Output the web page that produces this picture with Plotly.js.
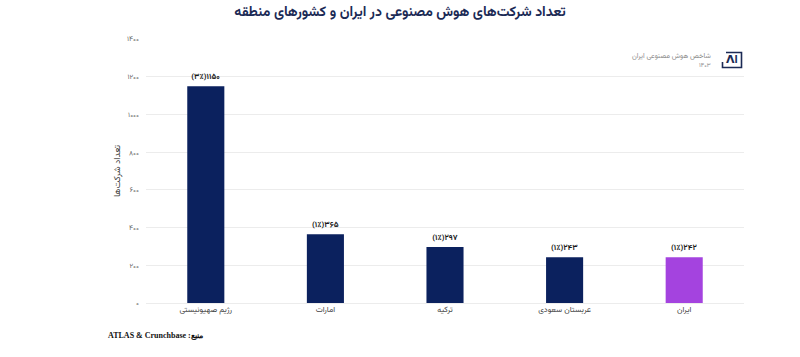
<!DOCTYPE html>
<html>
<head>
<meta charset="utf-8">
<script src="https://cdn.plot.ly/plotly-3.0.1.min.js"></script>
<style>html,body{margin:0;padding:0;background:#fff;}#chart{width:800px;height:357px;}</style>
</head>
<body>
<div id="chart"></div>
<script>
const categories = ["رژیم صهیونیستی", "امارات", "ترکیه", "عربستان سعودی", "ایران"];
const values = [1150, 365, 297, 243, 242];
const valueLabels = ["(۳٪)۱۱۵۰", "(۱٪)۳۶۵", "(۱٪)۲۹۷", "(۱٪)۲۴۳", "(۱٪)۲۴۲"];
const tickVals = [0, 200, 400, 600, 800, 1000, 1200, 1400];
const tickText = ["۰", "۲۰۰", "۴۰۰", "۶۰۰", "۸۰۰", "۱۰۰۰", "۱۲۰۰", "۱۴۰۰"];
const barColors = ["#0b215e", "#0b215e", "#0b215e", "#0b215e", "#a443df"];

const FONT = "Vazirmatn, 'DejaVu Sans', sans-serif";
const L = 146, W = 598, B = 303, H = 264;
const px = v => (v - L) / W;
const py = v => (B - v) / H;

const trace = {
  type: "bar",
  x: categories,
  y: values,
  text: valueLabels.map(s => "<b>" + s + "</b>"),
  textposition: "outside",
  cliponaxis: false,
  textfont: {family: FONT, size: 8, color: "#1a1a1a"},
  marker: {color: barColors},
  width: 0.31,
  hoverinfo: "none"
};

const layout = {
  width: 800, height: 357,
  margin: {l: 146, r: 56, t: 39, b: 54},
  paper_bgcolor: "#fff", plot_bgcolor: "#fff",
  showlegend: false,
  font: {family: FONT},
  title: {
    text: "<b>تعداد شرکت‌های هوش مصنوعی در ایران و کشورهای منطقه</b>",
    font: {family: FONT, size: 14, color: "#1b2a55"},
    x: 0.5, xanchor: "center", y: 0.968, yanchor: "middle"
  },
  xaxis: {
    type: "category",
    showgrid: false, showline: false, zeroline: false,
    ticks: "",
    tickfont: {family: FONT, size: 8, color: "#444"}
  },
  yaxis: {
    range: [0, 1400],
    tickvals: tickVals,
    ticktext: tickText,
    showgrid: true, gridcolor: "#ececec", gridwidth: 1,
    zeroline: true, zerolinecolor: "#ececec",
    showline: false, ticks: "",
    ticklabelstandoff: 6,
    tickfont: {family: FONT, size: 7, color: "#666"},
    title: {text: "تعداد شرکت‌ها", font: {family: FONT, size: 9, color: "#444"}, standoff: 4}
  },
  shapes: [
    {type: "path", xref: "paper", yref: "paper",
     path: `M ${px(726)} ${py(52.5)} L ${px(741.5)} ${py(52.5)} L ${px(741.5)} ${py(67.5)} L ${px(722.5)} ${py(67.5)} L ${px(722.5)} ${py(62)}`,
     line: {color: "#1b2a55", width: 1.6}}
  ],
  annotations: [
    {xref: "paper", yref: "paper", x: px(713), y: py(56), xanchor: "right", yanchor: "middle",
     text: "شاخص هوش مصنوعی ایران", showarrow: false,
     font: {family: FONT, size: 7, color: "#888"}},
    {xref: "paper", yref: "paper", x: px(713), y: py(65), xanchor: "right", yanchor: "middle",
     text: "۱۴۰۳", showarrow: false,
     font: {family: FONT, size: 6, color: "#888"}},
    {xref: "paper", yref: "paper", x: px(732), y: py(60.5), xanchor: "center", yanchor: "middle",
     text: "<b>ΛI</b>", showarrow: false,
     font: {family: FONT, size: 11, color: "#1b2a55"}},
    {xref: "paper", yref: "paper", x: px(106), y: py(336), xanchor: "left", yanchor: "middle",
     text: "<b>ATLAS & Crunchbase :منبع</b>", showarrow: false,
     font: {family: "'Liberation Serif', serif", size: 8, color: "#111"}}
  ]
};

Plotly.newPlot("chart", [trace], layout, {displayModeBar: false, staticPlot: true});
</script>
</body>
</html>
